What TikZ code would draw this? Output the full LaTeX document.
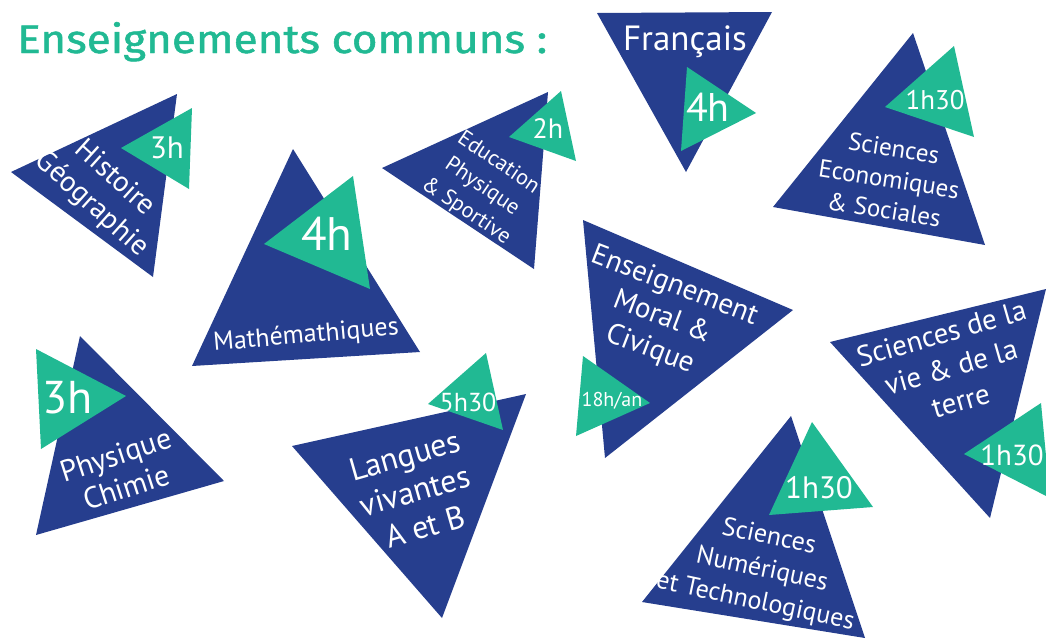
\documentclass[tikz,border=0pt]{standalone}
\usepackage{fontspec}
\setmainfont{PT Sans}
\newfontfamily\titlefont[FakeBold=1.2]{Fira Sans}
\definecolor{tblue}{HTML}{263E8E}
\definecolor{tgreen}{HTML}{21B993}
\newcommand{\fs}[2]{\fontsize{#1}{#2}\selectfont}
\tikzset{
  bt/.style={fill=tblue},
  gt/.style={fill=tgreen},
  tx/.style={text=white, align=center, inner sep=0pt},
}
\begin{document}
\begin{tikzpicture}[x=1pt,y=-1pt]
\useasboundingbox (0,0) rectangle (1046,638);
% title
\node[anchor=base west, inner sep=0pt, text=tgreen] (title) at (17,53) {\resizebox{530pt}{31pt}{\titlefont Enseignements communs :}};

% Histoire Geographie
\fill[bt] (177,94) -- (11,172) -- (153,277) -- cycle;
\fill[gt] (192,108) -- (121,148) -- (189,189) -- cycle;
\node[tx, font=\fs{31}{31}] (hgh) at (167,148) {3h};
\node[tx, rotate=-42, font=\fs{29}{35}] (hg) at (103,192) {Histoire\\Géographie};

% Mathematiques
\fill[bt] (293,149) -- (192,366) -- (420,352) -- cycle;
\fill[gt] (353,176) -- (264,244) -- (370,289) -- cycle;
\node[tx, font=\fs{47}{47}] (mah) at (327,234) {4h};
\node[tx, rotate=5, font=\fs{26}{26}] (ma) at (306,336) {Mathémathiques};

% EPS
\fill[bt] (548,92) -- (382,168) -- (534,269) -- cycle;
\fill[gt] (561,91) -- (509,137) -- (576,161) -- cycle;
\node[tx, font=\fs{28}{28}] (epsh) at (548,129) {2h};
\node[tx, rotate=-34, font=\fs{22}{29}] (eps) at (482,187) {Education\\Physique\\\& Sportive};

% Francais
\fill[bt] (597,13) -- (772,12) -- (686,172) -- cycle;
\fill[gt] (687,67) -- (756,113) -- (681,151) -- cycle;
\node[tx, font=\fs{35}{35}] (fr) at (685,42) {Français};
\node[tx, font=\fs{40}{40}] (frh) at (708,107) {4h};

% SES
\fill[bt] (913,33) -- (773,207) -- (985,245) -- cycle;
\fill[gt] (954,46) -- (885,107) -- (974,137) -- cycle;
\node[tx, font=\fs{27}{27}] (sesh) at (935,100) {1h30};
\node[tx, rotate=-9, font=\fs{25}{31}] (ses) at (889,179) {Sciences\\Economiques\\\& Sociales};

% EMC
\fill[bt] (583,220) -- (793,310) -- (605,458) -- cycle;
\fill[gt] (583,356) -- (650,403) -- (576,436) -- cycle;
\node[tx, rotate=-21, font=\fs{29}{34}] (emc) at (662,318) {Enseignement\\Moral \&\\Civique};
\node[tx, font=\fs{20}{20}] (emch) at (612,401) {18h/an};

% SVT
\fill[bt] (830,342) -- (1046,289) -- (990,518) -- cycle;
\fill[gt] (1041,403) -- (964,454) -- (1050,498) -- cycle;
\node[tx, rotate=16, font=\fs{29}{35}] (svt) at (951,367) {Sciences de la\\vie \& de la\\terre};
\node[tx, font=\fs{29}{29}] (svth) at (1012,455) {1h30};

% Physique Chimie
\fill[bt] (80,336) -- (224,481) -- (36,535) -- cycle;
\fill[gt] (36,349) -- (126,396) -- (41,449) -- cycle;
\node[tx, font=\fs{46}{46}] (pch) at (68,398) {3h};
\node[tx, rotate=18, font=\fs{30}{34}] (pc) at (121,471) {Physique\\Chimie};

% Langues vivantes
\fill[bt] (292,446) -- (526,394) -- (442,618) -- cycle;
\fill[gt] (486,353) -- (428,404) -- (503,430) -- cycle;
\node[tx, font=\fs{26}{26}] (lvh) at (468,402) {5h30};
\node[tx, rotate=16, font=\fs{32}{37}] (lv) at (415,491) {Langues\\vivantes\\A et B};

% SNT
\fill[bt] (791,416) -- (642,602) -- (865,638) -- cycle;
\fill[gt] (812,422) -- (769,515) -- (873,507) -- cycle;
\node[tx, font=\fs{31}{31}] (snth) at (819,488) {1h30};
\node[tx, rotate=-12, font=\fs{26}{33}] (snt) at (762,570) {Sciences\\Numériques\\et Technologiques};
\end{tikzpicture}
\end{document}
